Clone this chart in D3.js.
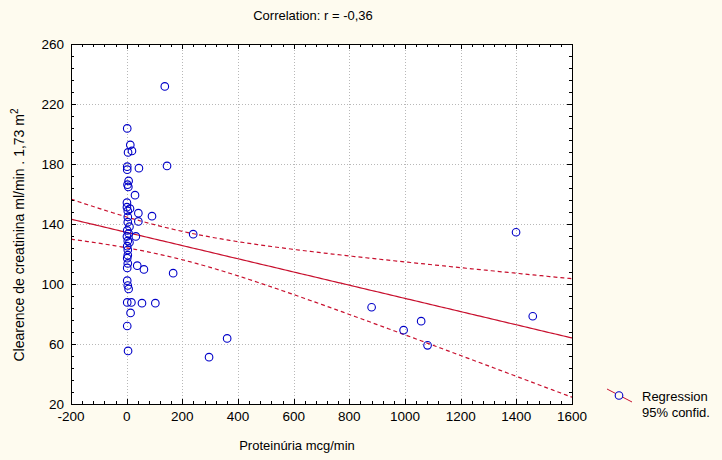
<!DOCTYPE html>
<html>
<head>
<meta charset="utf-8">
<script src="https://cdn.jsdelivr.net/npm/d3@7/dist/d3.min.js"></script>
<style>
  html, body { margin: 0; padding: 0; background: #FEFBEF; }
  svg { display: block; font-family: "Liberation Sans", Arial, sans-serif; }
</style>
</head>
<body>
<svg id="chart" width="722" height="460"></svg>
<script>
// ---- data ----
const proteinuria = [2, 13, 19, 5, 2, 2, 44, 145, 137, 7, 3, 6, 30, 1, 1, 12, 4, 42, 91, 4,
  4, 42, 10, 2, 7, 1, 33, 239, 4, 10, 2, 4, 4, 2, 4, 2, 38, 62, 167, 2,
  4, 7, 2, 17, 55, 103, 14, 2, 5, 296, 361, 880, 995, 1058, 1081, 1399, 1459];
const clearance = [203.7, 192.7, 188.7, 187.7, 178.2, 176.2, 177.2, 178.7, 231.7, 168.7, 166.2, 164.7, 159.2, 154.2, 151.2, 150.2, 148.7, 147.2, 145.2, 144.7,
  141.2, 141.7, 138.2, 135.7, 133.7, 131.7, 131.7, 133.2, 128.7, 127.7, 125.2, 122.7, 119.2, 117.2, 113.7, 110.7, 112.2, 109.7, 107.2, 102.2,
  99, 96.7, 87.7, 87.7, 87.2, 87.2, 80.7, 72, 55.4, 51.2, 63.7, 84.5, 69.2, 75.2, 59.1, 134.5, 78.5];
const xTicks = [-200, 0, 200, 400, 600, 800, 1000, 1200, 1400, 1600];
const yTicks = [20, 60, 100, 140, 180, 220, 260];
const titleText = "Correlation: r = -0,36";
const xTitle = "Proteinúria mcg/min";
const yTitle = "Clearence de creatinina ml/min . 1,73 m";
const legendLabels = ["Regression", "95% confid."];
const bandFactor = 1.86; // band multiplier matched to the reference

// ---- layout ----
const svg = d3.select("#chart");
const L = 71, R = 572, T = 44, B = 404;
const x = d3.scaleLinear().domain([-200, 1600]).range([L, R]);
const y = d3.scaleLinear().domain([20, 260]).range([B, T]);
const red = "#C8102E", blue = "#0000C8";

svg.append("rect").attr("x", L).attr("y", T).attr("width", R - L).attr("height", B - T).attr("fill", "#ffffff");

// grid
const grid = svg.append("g").attr("stroke", "#B8B8B8").attr("stroke-dasharray", "1,2").attr("stroke-width", 1);
xTicks.slice(1, -1).forEach(v => grid.append("line").attr("x1", Math.round(x(v)) + 0.5).attr("x2", Math.round(x(v)) + 0.5).attr("y1", T).attr("y2", B));
yTicks.slice(1, -1).forEach(v => grid.append("line").attr("y1", Math.round(y(v)) + 0.5).attr("y2", Math.round(y(v)) + 0.5).attr("x1", L).attr("x2", R));

// regression from data
const n = proteinuria.length;
const xm = d3.mean(proteinuria), ym = d3.mean(clearance);
let sxx = 0, sxy = 0;
for (let i = 0; i < n; i++) { sxx += (proteinuria[i] - xm) ** 2; sxy += (proteinuria[i] - xm) * (clearance[i] - ym); }
const slope = sxy / sxx, icpt = ym - slope * xm;
let sse = 0;
for (let i = 0; i < n; i++) sse += (clearance[i] - icpt - slope * proteinuria[i]) ** 2;
const s = Math.sqrt(sse / (n - 2));
const xs = d3.range(-200, 1601, 10);
const fit = v => icpt + slope * v;
const half = v => bandFactor * s * Math.sqrt(1 / n + (v - xm) ** 2 / sxx);

svg.append("clipPath").attr("id", "clip").append("rect").attr("x", L).attr("y", T).attr("width", R - L).attr("height", B - T);
const gl = svg.append("g").attr("clip-path", "url(#clip)");
const line = d3.line().x(d => x(d[0])).y(d => y(d[1]));
gl.append("path").attr("d", line(xs.map(v => [v, fit(v)]))).attr("fill", "none").attr("stroke", red).attr("stroke-width", 1.2);
gl.append("path").attr("d", line(xs.map(v => [v, fit(v) + half(v)]))).attr("fill", "none").attr("stroke", red).attr("stroke-width", 1.2).attr("stroke-dasharray", "4,3");
gl.append("path").attr("d", line(xs.map(v => [v, fit(v) - half(v)]))).attr("fill", "none").attr("stroke", red).attr("stroke-width", 1.2).attr("stroke-dasharray", "4,3");

// points
svg.append("g").selectAll("circle").data(proteinuria.map((v, i) => [v, clearance[i]])).join("circle")
  .attr("cx", d => x(d[0])).attr("cy", d => y(d[1])).attr("r", 3.8)
  .attr("fill", "none").attr("stroke", blue).attr("stroke-width", 1.1);

// frame
svg.append("rect").attr("x", L + 0.5).attr("y", T + 0.5).attr("width", R - L).attr("height", B - T).attr("fill", "none").attr("stroke", "#000").attr("stroke-width", 1);

// ticks (inward)
const tk = svg.append("g").attr("stroke", "#000").attr("stroke-width", 1);
const xMinor = d3.range(-200, 1601, 40), yMinor = d3.range(20, 261, 8);
xMinor.forEach(v => {
  const px = Math.round(x(v)) + 0.5;
  const len = xTicks.includes(v) ? 5 : 3;
  tk.append("line").attr("x1", px).attr("x2", px).attr("y1", B).attr("y2", B - len);
  tk.append("line").attr("x1", px).attr("x2", px).attr("y1", T).attr("y2", T + len);
});
yMinor.forEach(v => {
  const py = Math.round(y(v)) + 0.5;
  const len = yTicks.includes(v) ? 5 : 3;
  tk.append("line").attr("y1", py).attr("y2", py).attr("x1", L).attr("x2", L + len);
  tk.append("line").attr("y1", py).attr("y2", py).attr("x1", R).attr("x2", R - len);
});

// tick labels
svg.append("g").selectAll("text").data(xTicks).join("text")
  .attr("x", d => x(d)).attr("y", 421).attr("text-anchor", "middle").attr("font-size", 13.5).attr("fill", "#000").text(d => d);
svg.append("g").selectAll("text").data(yTicks).join("text")
  .attr("x", 64).attr("y", d => y(d) + 5).attr("text-anchor", "end").attr("font-size", 13.5).attr("fill", "#000").text(d => d);

// titles
svg.append("text").attr("x", 313).attr("y", 20).attr("text-anchor", "middle").attr("font-size", 13).text(titleText);
svg.append("text").attr("x", 297).attr("y", 450).attr("text-anchor", "middle").attr("font-size", 13).text(xTitle);
const yt = svg.append("text").attr("transform", "translate(24,235) rotate(-90)").attr("text-anchor", "middle").attr("font-size", 14);
yt.append("tspan").text(yTitle);
yt.append("tspan").attr("dy", -6).attr("font-size", 10).text("2");

// legend
svg.append("line").attr("x1", 607).attr("y1", 389).attr("x2", 632).attr("y2", 402).attr("stroke", red).attr("stroke-width", 1);
svg.append("circle").attr("cx", 619).attr("cy", 395.5).attr("r", 3.8).attr("fill", "#FEFBEF").attr("stroke", blue).attr("stroke-width", 1.1);
svg.append("text").attr("x", 642).attr("y", 401).attr("font-size", 13).text(legendLabels[0]);
svg.append("text").attr("x", 642).attr("y", 417).attr("font-size", 13).text(legendLabels[1]);
</script>
</body>
</html>
